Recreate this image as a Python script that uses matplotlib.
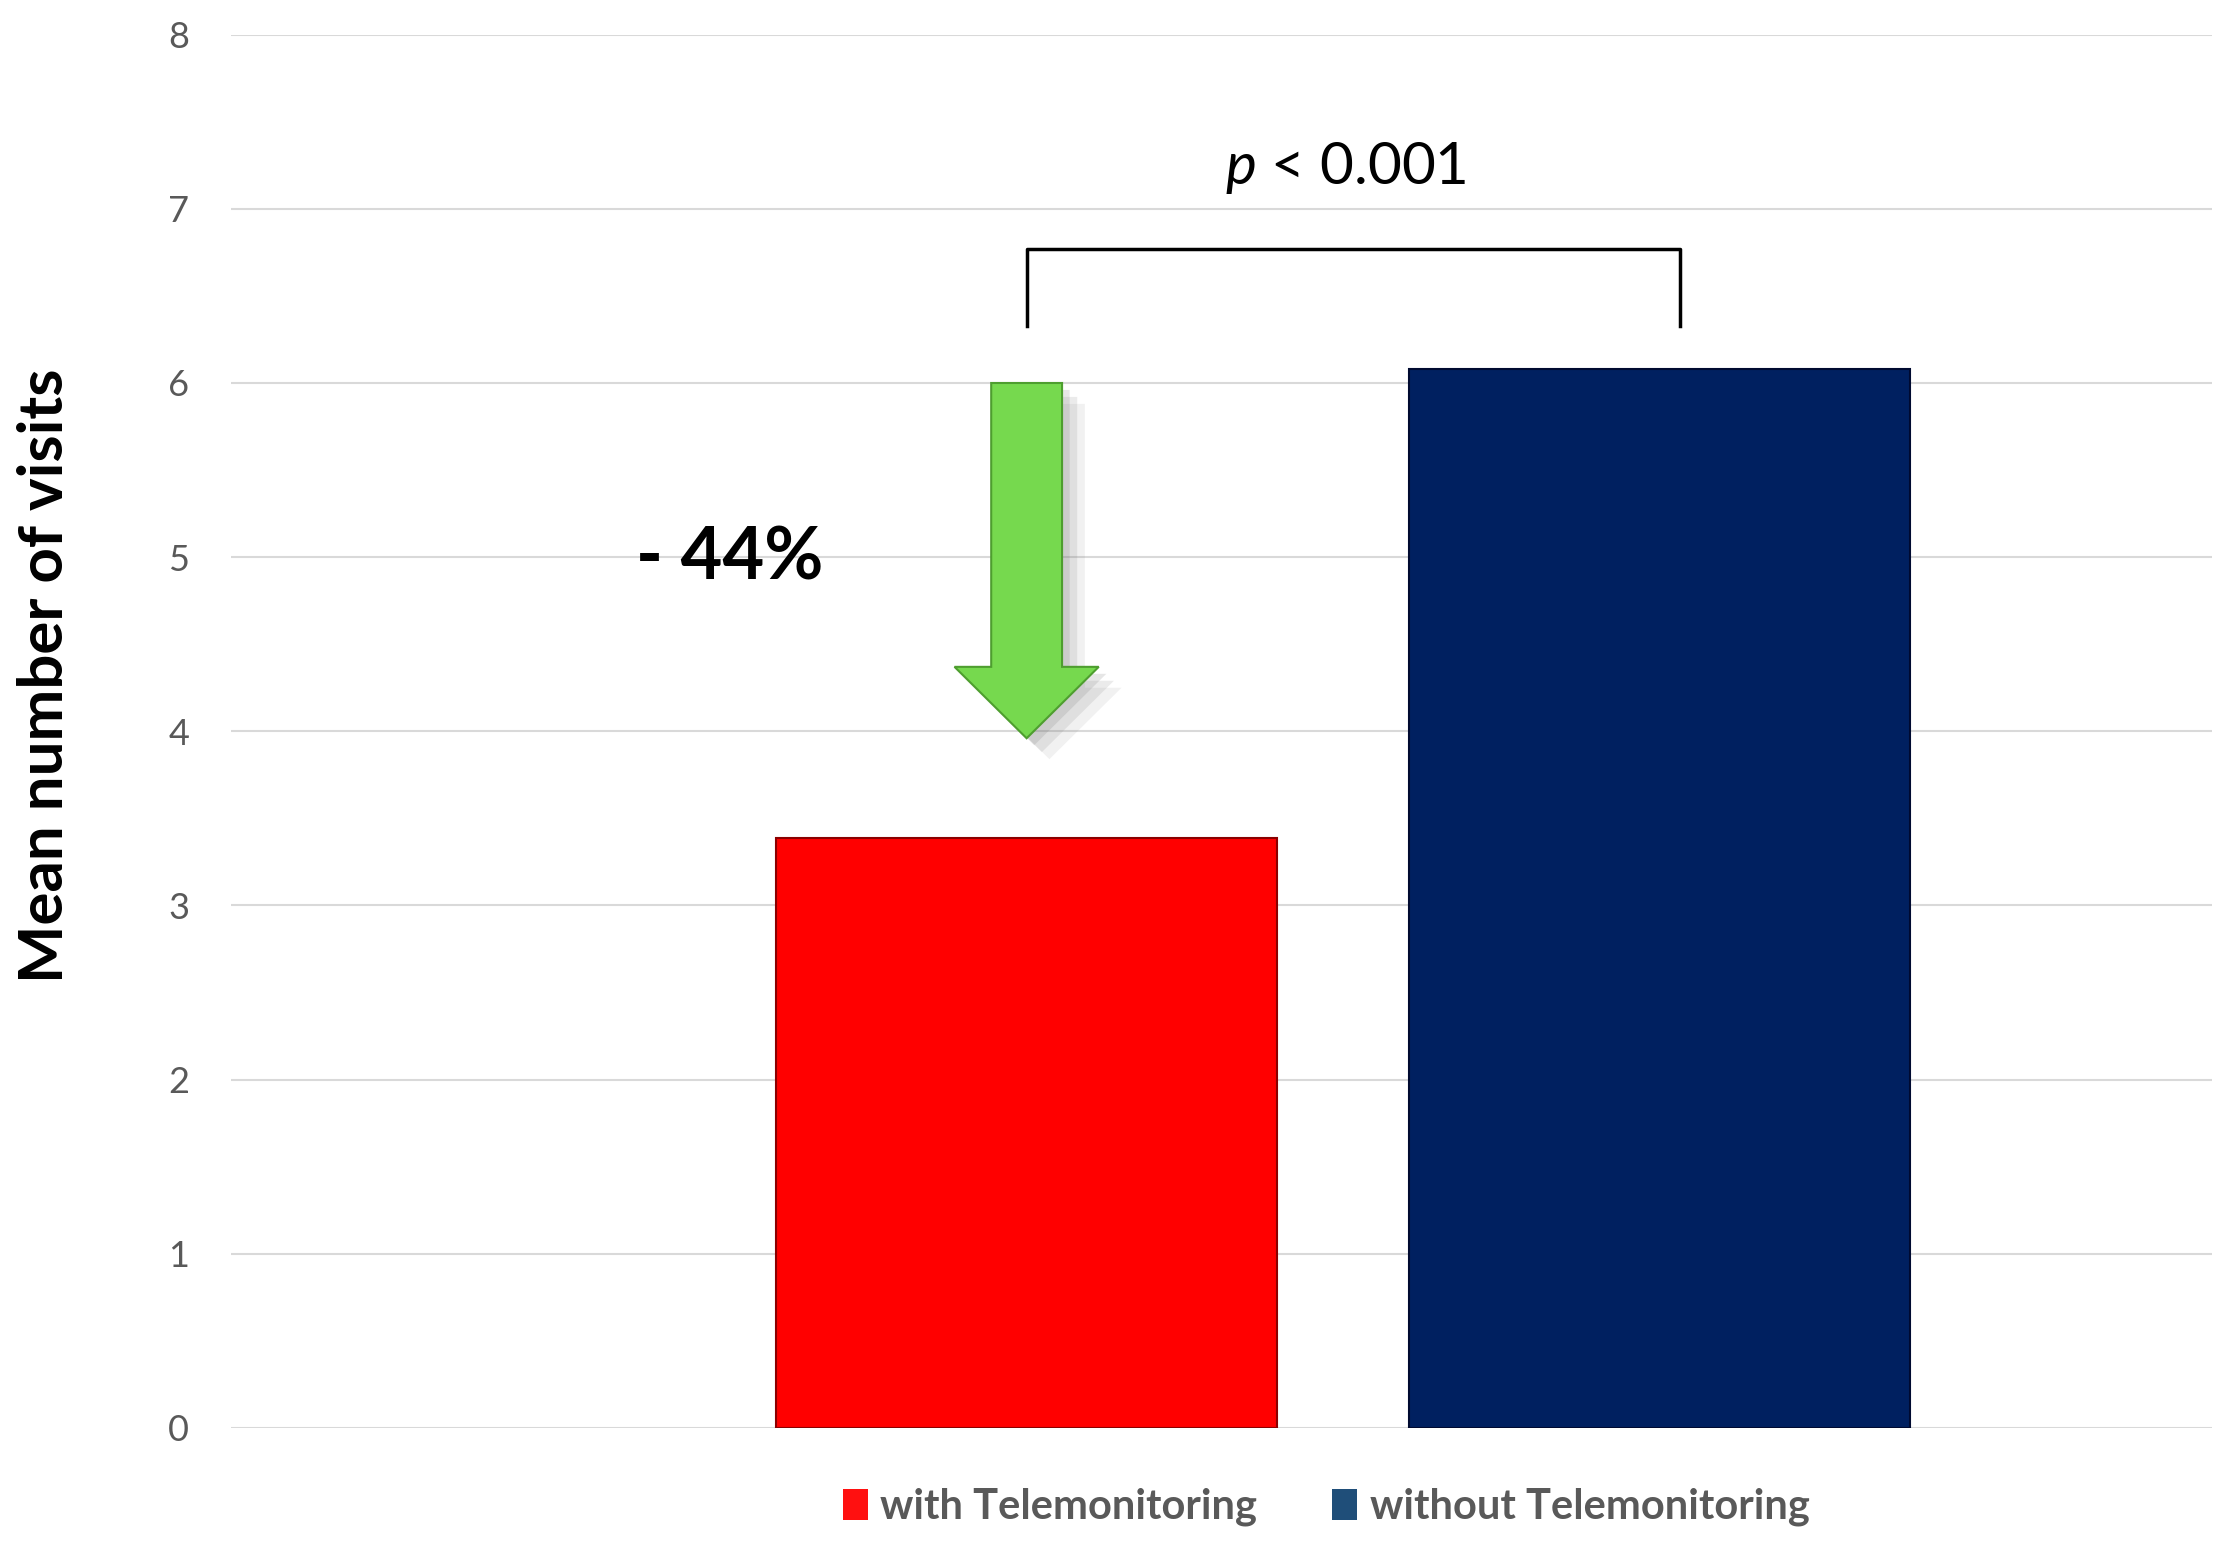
import matplotlib
matplotlib.use("Agg")
import matplotlib.pyplot as plt
from matplotlib.patches import FancyArrow, Patch

# chart data
groups = ['with Telemonitoring', 'without Telemonitoring']
mean_visits = [3.39, 6.08]
bar_colors = ['#FF0000', '#002060']
legend_colors = ['#FF1010', '#1F4E79']
y_ticks = [0, 1, 2, 3, 4, 5, 6, 7, 8]
p_label = 'p < 0.001'
change_label = '- 44%'

plt.rcParams['font.family'] = ['Lato', 'DejaVu Sans']
plt.rcParams['mathtext.fontset'] = 'custom'
plt.rcParams['mathtext.it'] = 'Lato:italic'
plt.rcParams['mathtext.rm'] = 'Lato'

fig = plt.figure(figsize=(22.33, 15.49), dpi=100)
ax = fig.add_axes([0.1034, 0.0782, 0.8872, 0.8994])

xpos = list(range(len(groups)))
bars = ax.bar(xpos, mean_visits, width=0.792, color=bar_colors,
              edgecolor=['#8B0000', '#000A30'], linewidth=1.5, zorder=3)

ax.set_xlim(-1.258, 1.874)
ax.set_ylim(0, 8)
ax.set_yticks(y_ticks)
ax.set_xticks([])
ax.grid(axis='y', color='#D9D9D9', linewidth=1.5, zorder=0)
for s in ax.spines.values():
    s.set_visible(False)
ax.tick_params(axis='y', length=0, pad=30, labelsize=26, labelcolor='#595959')

ax.text(-0.094, 0.54, 'Mean number of visits', transform=ax.transAxes,
        rotation=90, ha='center', va='center', fontsize=44.5,
        fontweight='bold', color='black')

# green arrow from the blue level down towards the red bar
top = 6.0
tip = 3.96
for k, a in enumerate([0.10, 0.14, 0.18]):
    off = 0.012 * (3 - k)
    shadow = FancyArrow(xpos[0] + off, top - 0.04 * (3 - k), 0, tip - top,
                        width=0.112, head_width=0.228, head_length=0.41,
                        length_includes_head=True, color='#777777', alpha=a,
                        linewidth=0, zorder=4)
    ax.add_patch(shadow)
arrow = FancyArrow(xpos[0], top, 0, tip - top, width=0.112,
                   head_width=0.228, head_length=0.41,
                   length_includes_head=True, facecolor='#76D94E',
                   edgecolor='#4E9E2F', linewidth=1.5, zorder=5)
ax.add_patch(arrow)

ax.text(-0.47, 4.87, change_label, ha='center', va='baseline',
        fontsize=52, fontweight='bold', color='black')

# significance bracket
bx0, bx1 = xpos[0], 1.033
ax.plot([bx0, bx0, bx1, bx1], [6.33, 6.77, 6.77, 6.33], color='black',
        linewidth=2.5, solid_joinstyle='round', zorder=4)
ax.text(0.505, 7.14, r'$\it{p}$ < 0.001', ha='center', va='baseline',
        fontsize=42, color='black')

handles = [Patch(facecolor=c, edgecolor='none') for c in legend_colors]
leg = fig.legend(handles, groups, loc='center', bbox_to_anchor=(0.594, 0.027),
                 ncol=2, frameon=False, handlelength=0.6, handleheight=0.8,
                 handletextpad=0.3, columnspacing=1.8,
                 prop={'size': 30, 'weight': 'bold'})
for t in leg.get_texts():
    t.set_color('#595959')

fig.savefig('out.png', dpi=100)
